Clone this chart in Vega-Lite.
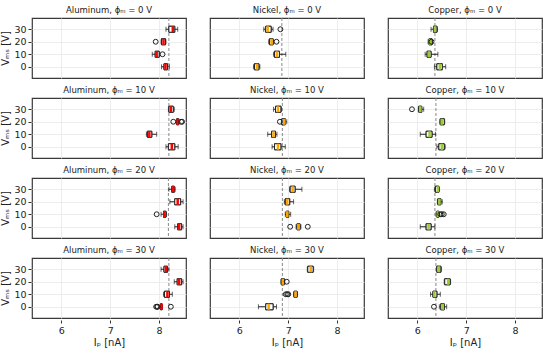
{
  "$schema": "https://vega.github.io/schema/vega-lite/v6.json",
  "padding": {"left": 0, "top": 5, "right": 0, "bottom": 0},
  "background": "white",
  "config": {
    "font": "DejaVu Sans",
    "view": {"stroke": "#3a3a3a", "strokeWidth": 1.2},
    "axis": {"labelFont": "DejaVu Sans", "titleFont": "DejaVu Sans", "labelFontSize": 9.5, "titleFontSize": 10, "labelColor": "#222222", "titleColor": "#222222", "titleFontWeight": "normal", "gridColor": "#e8e8e8", "gridWidth": 0.8, "domain": false, "tickColor": "#333333", "tickSize": 3, "labelOverlap": false},
    "header": {"labelFont": "DejaVu Sans", "labelFontSize": 8.5, "labelColor": "#222222", "labelPadding": 3}
  },
  "data": {"values": [
    {"t":"box","panel":"Aluminum, ϕₘ = 0 V","mat":"Aluminum","V":30,"lo":8.14,"q1":8.2,"med":8.28,"q3":8.32,"hi":8.38},
    {"t":"box","panel":"Aluminum, ϕₘ = 0 V","mat":"Aluminum","V":20,"lo":8.04,"q1":8.05,"med":8.09,"q3":8.13,"hi":8.14},
    {"t":"box","panel":"Aluminum, ϕₘ = 0 V","mat":"Aluminum","V":10,"lo":7.86,"q1":7.92,"med":7.95,"q3":8.0,"hi":8.01},
    {"t":"box","panel":"Aluminum, ϕₘ = 0 V","mat":"Aluminum","V":0,"lo":8.05,"q1":8.1,"med":8.13,"q3":8.17,"hi":8.21},
    {"t":"out","panel":"Aluminum, ϕₘ = 0 V","mat":"Aluminum","V":20,"x":7.93},
    {"t":"out","panel":"Aluminum, ϕₘ = 0 V","mat":"Aluminum","V":10,"x":8.07},
    {"t":"mean","panel":"Aluminum, ϕₘ = 0 V","mat":"Aluminum","m":8.2},
    {"t":"box","panel":"Nickel, ϕₘ = 0 V","mat":"Nickel","V":30,"lo":6.5,"q1":6.54,"med":6.58,"q3":6.65,"hi":6.69},
    {"t":"box","panel":"Nickel, ϕₘ = 0 V","mat":"Nickel","V":20,"lo":6.6,"q1":6.62,"med":6.66,"q3":6.69,"hi":6.7},
    {"t":"box","panel":"Nickel, ϕₘ = 0 V","mat":"Nickel","V":10,"lo":6.7,"q1":6.72,"med":6.77,"q3":6.82,"hi":6.95},
    {"t":"box","panel":"Nickel, ϕₘ = 0 V","mat":"Nickel","V":0,"lo":6.29,"q1":6.31,"med":6.36,"q3":6.4,"hi":6.42},
    {"t":"out","panel":"Nickel, ϕₘ = 0 V","mat":"Nickel","V":30,"x":6.84},
    {"t":"out","panel":"Nickel, ϕₘ = 0 V","mat":"Nickel","V":20,"x":6.76},
    {"t":"mean","panel":"Nickel, ϕₘ = 0 V","mat":"Nickel","m":6.87},
    {"t":"box","panel":"Copper, ϕₘ = 0 V","mat":"Copper","V":30,"lo":6.28,"q1":6.33,"med":6.36,"q3":6.4,"hi":6.41},
    {"t":"box","panel":"Copper, ϕₘ = 0 V","mat":"Copper","V":20,"lo":6.22,"q1":6.24,"med":6.26,"q3":6.3,"hi":6.31},
    {"t":"box","panel":"Copper, ϕₘ = 0 V","mat":"Copper","V":10,"lo":6.16,"q1":6.2,"med":6.24,"q3":6.28,"hi":6.42},
    {"t":"box","panel":"Copper, ϕₘ = 0 V","mat":"Copper","V":0,"lo":6.35,"q1":6.4,"med":6.46,"q3":6.51,"hi":6.58},
    {"t":"out","panel":"Copper, ϕₘ = 0 V","mat":"Copper","V":20,"x":6.29},
    {"t":"mean","panel":"Copper, ϕₘ = 0 V","mat":"Copper","m":6.36},
    {"t":"box","panel":"Aluminum, ϕₘ = 10 V","mat":"Aluminum","V":30,"lo":8.19,"q1":8.2,"med":8.24,"q3":8.29,"hi":8.31},
    {"t":"box","panel":"Aluminum, ϕₘ = 10 V","mat":"Aluminum","V":20,"lo":8.35,"q1":8.36,"med":8.38,"q3":8.4,"hi":8.41},
    {"t":"box","panel":"Aluminum, ϕₘ = 10 V","mat":"Aluminum","V":10,"lo":7.74,"q1":7.76,"med":7.8,"q3":7.85,"hi":7.95},
    {"t":"box","panel":"Aluminum, ϕₘ = 10 V","mat":"Aluminum","V":0,"lo":8.14,"q1":8.19,"med":8.26,"q3":8.32,"hi":8.39},
    {"t":"out","panel":"Aluminum, ϕₘ = 10 V","mat":"Aluminum","V":20,"x":8.29},
    {"t":"out","panel":"Aluminum, ϕₘ = 10 V","mat":"Aluminum","V":20,"x":8.45},
    {"t":"out","panel":"Aluminum, ϕₘ = 10 V","mat":"Aluminum","V":20,"x":8.47},
    {"t":"mean","panel":"Aluminum, ϕₘ = 10 V","mat":"Aluminum","m":8.2},
    {"t":"box","panel":"Nickel, ϕₘ = 10 V","mat":"Nickel","V":30,"lo":6.7,"q1":6.74,"med":6.79,"q3":6.85,"hi":6.86},
    {"t":"box","panel":"Nickel, ϕₘ = 10 V","mat":"Nickel","V":20,"lo":6.86,"q1":6.87,"med":6.92,"q3":6.94,"hi":6.97},
    {"t":"box","panel":"Nickel, ϕₘ = 10 V","mat":"Nickel","V":10,"lo":6.58,"q1":6.66,"med":6.7,"q3":6.74,"hi":6.77},
    {"t":"box","panel":"Nickel, ϕₘ = 10 V","mat":"Nickel","V":0,"lo":6.67,"q1":6.72,"med":6.79,"q3":6.85,"hi":6.94},
    {"t":"out","panel":"Nickel, ϕₘ = 10 V","mat":"Nickel","V":20,"x":6.83},
    {"t":"mean","panel":"Nickel, ϕₘ = 10 V","mat":"Nickel","m":6.88},
    {"t":"box","panel":"Copper, ϕₘ = 10 V","mat":"Copper","V":30,"lo":6.02,"q1":6.03,"med":6.06,"q3":6.09,"hi":6.13},
    {"t":"box","panel":"Copper, ϕₘ = 10 V","mat":"Copper","V":20,"lo":6.46,"q1":6.47,"med":6.5,"q3":6.55,"hi":6.56},
    {"t":"box","panel":"Copper, ϕₘ = 10 V","mat":"Copper","V":10,"lo":6.06,"q1":6.18,"med":6.25,"q3":6.3,"hi":6.37},
    {"t":"box","panel":"Copper, ϕₘ = 10 V","mat":"Copper","V":0,"lo":6.4,"q1":6.44,"med":6.5,"q3":6.55,"hi":6.57},
    {"t":"out","panel":"Copper, ϕₘ = 10 V","mat":"Copper","V":30,"x":5.89},
    {"t":"mean","panel":"Copper, ϕₘ = 10 V","mat":"Copper","m":6.38},
    {"t":"box","panel":"Aluminum, ϕₘ = 20 V","mat":"Aluminum","V":30,"lo":8.2,"q1":8.26,"med":8.29,"q3":8.31,"hi":8.33},
    {"t":"box","panel":"Aluminum, ϕₘ = 20 V","mat":"Aluminum","V":20,"lo":8.22,"q1":8.32,"med":8.38,"q3":8.44,"hi":8.49},
    {"t":"box","panel":"Aluminum, ϕₘ = 20 V","mat":"Aluminum","V":10,"lo":8.04,"q1":8.09,"med":8.11,"q3":8.14,"hi":8.15},
    {"t":"box","panel":"Aluminum, ϕₘ = 20 V","mat":"Aluminum","V":0,"lo":8.32,"q1":8.38,"med":8.41,"q3":8.46,"hi":8.49},
    {"t":"out","panel":"Aluminum, ϕₘ = 20 V","mat":"Aluminum","V":10,"x":7.95},
    {"t":"mean","panel":"Aluminum, ϕₘ = 20 V","mat":"Aluminum","m":8.19},
    {"t":"box","panel":"Nickel, ϕₘ = 20 V","mat":"Nickel","V":30,"lo":7.03,"q1":7.04,"med":7.09,"q3":7.14,"hi":7.28},
    {"t":"box","panel":"Nickel, ϕₘ = 20 V","mat":"Nickel","V":20,"lo":6.92,"q1":6.94,"med":6.98,"q3":7.03,"hi":7.11},
    {"t":"box","panel":"Nickel, ϕₘ = 20 V","mat":"Nickel","V":10,"lo":6.94,"q1":6.96,"med":6.98,"q3":7.01,"hi":7.05},
    {"t":"box","panel":"Nickel, ϕₘ = 20 V","mat":"Nickel","V":0,"lo":7.16,"q1":7.18,"med":7.21,"q3":7.24,"hi":7.26},
    {"t":"out","panel":"Nickel, ϕₘ = 20 V","mat":"Nickel","V":0,"x":7.04},
    {"t":"out","panel":"Nickel, ϕₘ = 20 V","mat":"Nickel","V":0,"x":7.4},
    {"t":"mean","panel":"Nickel, ϕₘ = 20 V","mat":"Nickel","m":6.88},
    {"t":"box","panel":"Copper, ϕₘ = 20 V","mat":"Copper","V":30,"lo":6.35,"q1":6.37,"med":6.42,"q3":6.44,"hi":6.45},
    {"t":"box","panel":"Copper, ϕₘ = 20 V","mat":"Copper","V":20,"lo":6.41,"q1":6.42,"med":6.45,"q3":6.48,"hi":6.51},
    {"t":"box","panel":"Copper, ϕₘ = 20 V","mat":"Copper","V":10,"lo":6.38,"q1":6.4,"med":6.42,"q3":6.44,"hi":6.45},
    {"t":"box","panel":"Copper, ϕₘ = 20 V","mat":"Copper","V":0,"lo":6.06,"q1":6.18,"med":6.23,"q3":6.28,"hi":6.36},
    {"t":"out","panel":"Copper, ϕₘ = 20 V","mat":"Copper","V":10,"x":6.47},
    {"t":"out","panel":"Copper, ϕₘ = 20 V","mat":"Copper","V":10,"x":6.5},
    {"t":"out","panel":"Copper, ϕₘ = 20 V","mat":"Copper","V":10,"x":6.54},
    {"t":"mean","panel":"Copper, ϕₘ = 20 V","mat":"Copper","m":6.36},
    {"t":"box","panel":"Aluminum, ϕₘ = 30 V","mat":"Aluminum","V":30,"lo":8.04,"q1":8.1,"med":8.14,"q3":8.17,"hi":8.2},
    {"t":"box","panel":"Aluminum, ϕₘ = 30 V","mat":"Aluminum","V":20,"lo":8.31,"q1":8.37,"med":8.41,"q3":8.46,"hi":8.49},
    {"t":"box","panel":"Aluminum, ϕₘ = 30 V","mat":"Aluminum","V":10,"lo":8.09,"q1":8.11,"med":8.17,"q3":8.21,"hi":8.27},
    {"t":"box","panel":"Aluminum, ϕₘ = 30 V","mat":"Aluminum","V":0,"lo":8.02,"q1":8.03,"med":8.05,"q3":8.06,"hi":8.07},
    {"t":"out","panel":"Aluminum, ϕₘ = 30 V","mat":"Aluminum","V":0,"x":7.94},
    {"t":"out","panel":"Aluminum, ϕₘ = 30 V","mat":"Aluminum","V":0,"x":7.96},
    {"t":"out","panel":"Aluminum, ϕₘ = 30 V","mat":"Aluminum","V":0,"x":7.97},
    {"t":"out","panel":"Aluminum, ϕₘ = 30 V","mat":"Aluminum","V":0,"x":8.24},
    {"t":"mean","panel":"Aluminum, ϕₘ = 30 V","mat":"Aluminum","m":8.2},
    {"t":"box","panel":"Nickel, ϕₘ = 30 V","mat":"Nickel","V":30,"lo":7.39,"q1":7.4,"med":7.46,"q3":7.51,"hi":7.52},
    {"t":"box","panel":"Nickel, ϕₘ = 30 V","mat":"Nickel","V":20,"lo":6.85,"q1":6.86,"med":6.89,"q3":6.92,"hi":6.93},
    {"t":"box","panel":"Nickel, ϕₘ = 30 V","mat":"Nickel","V":10,"lo":7.11,"q1":7.12,"med":7.15,"q3":7.18,"hi":7.19},
    {"t":"box","panel":"Nickel, ϕₘ = 30 V","mat":"Nickel","V":0,"lo":6.39,"q1":6.54,"med":6.6,"q3":6.69,"hi":6.76},
    {"t":"out","panel":"Nickel, ϕₘ = 30 V","mat":"Nickel","V":20,"x":6.97},
    {"t":"out","panel":"Nickel, ϕₘ = 30 V","mat":"Nickel","V":10,"x":6.95},
    {"t":"out","panel":"Nickel, ϕₘ = 30 V","mat":"Nickel","V":10,"x":6.98},
    {"t":"out","panel":"Nickel, ϕₘ = 30 V","mat":"Nickel","V":10,"x":7.0},
    {"t":"mean","panel":"Nickel, ϕₘ = 30 V","mat":"Nickel","m":6.88},
    {"t":"box","panel":"Copper, ϕₘ = 30 V","mat":"Copper","V":30,"lo":6.39,"q1":6.4,"med":6.44,"q3":6.48,"hi":6.49},
    {"t":"box","panel":"Copper, ϕₘ = 30 V","mat":"Copper","V":20,"lo":6.55,"q1":6.56,"med":6.63,"q3":6.67,"hi":6.68},
    {"t":"box","panel":"Copper, ϕₘ = 30 V","mat":"Copper","V":10,"lo":6.27,"q1":6.32,"med":6.35,"q3":6.4,"hi":6.47},
    {"t":"box","panel":"Copper, ϕₘ = 30 V","mat":"Copper","V":0,"lo":6.45,"q1":6.48,"med":6.52,"q3":6.55,"hi":6.6},
    {"t":"out","panel":"Copper, ϕₘ = 30 V","mat":"Copper","V":0,"x":6.34},
    {"t":"mean","panel":"Copper, ϕₘ = 30 V","mat":"Copper","m":6.38}
  ]},
  "facet": {
    "field": "panel",
    "type": "nominal",
    "sort": ["Aluminum, ϕₘ = 0 V","Nickel, ϕₘ = 0 V","Copper, ϕₘ = 0 V","Aluminum, ϕₘ = 10 V","Nickel, ϕₘ = 10 V","Copper, ϕₘ = 10 V","Aluminum, ϕₘ = 20 V","Nickel, ϕₘ = 20 V","Copper, ϕₘ = 20 V","Aluminum, ϕₘ = 30 V","Nickel, ϕₘ = 30 V","Copper, ϕₘ = 30 V"],
    "header": {"title": null}
  },
  "columns": 3,
  "spacing": {"row": 5, "column": 21},
  "spec": {
    "width": 154,
    "height": 60,
    "layer": [
      {"transform": [{"filter": "datum.t === 'box'"}], "mark": {"type": "bar", "orient": "horizontal", "size": 6, "fill": "white", "stroke": "#222222", "strokeWidth": 1},
       "encoding": {
         "x": {"field": "q1", "type": "quantitative", "scale": {"domain": [5.4, 8.55], "nice": false, "zero": false}, "axis": {"values": [6, 7, 8], "title": "Iₚ [nA]", "titlePadding": 3}},
         "x2": {"field": "q3"},
         "y": {"field": "V", "type": "quantitative", "scale": {"domain": [-5, 35], "nice": false, "zero": false}, "axis": {"values": [0, 10, 20, 30], "tickCount": 4, "title": "Vₘₛ [V]", "titlePadding": 3}}
       }},
      {"transform": [{"filter": "datum.t === 'mean'"}], "mark": {"type": "rule", "strokeDash": [3, 2], "color": "#888888", "strokeWidth": 1}, "encoding": {"x": {"field": "m", "type": "quantitative", "axis": {"values": [6, 7, 8], "title": "Iₚ [nA]", "titlePadding": 3}}}},
      {"transform": [{"filter": "datum.t === 'box'"}], "mark": {"type": "rule", "color": "#222222", "strokeWidth": 1}, "encoding": {"x": {"field": "lo", "type": "quantitative", "axis": {"values": [6, 7, 8], "title": "Iₚ [nA]", "titlePadding": 3}}, "x2": {"field": "hi"}, "y": {"field": "V", "type": "quantitative", "axis": {"values": [0, 10, 20, 30], "tickCount": 4, "title": "Vₘₛ [V]", "titlePadding": 3}}}},
      {"transform": [{"filter": "datum.t === 'box'"}], "mark": {"type": "tick", "orient": "vertical", "color": "#222222", "thickness": 1, "size": 5}, "encoding": {"x": {"field": "lo", "type": "quantitative", "axis": {"values": [6, 7, 8], "title": "Iₚ [nA]", "titlePadding": 3}}, "y": {"field": "V", "type": "quantitative", "axis": {"values": [0, 10, 20, 30], "tickCount": 4, "title": "Vₘₛ [V]", "titlePadding": 3}}}},
      {"transform": [{"filter": "datum.t === 'box'"}], "mark": {"type": "tick", "orient": "vertical", "color": "#222222", "thickness": 1, "size": 5}, "encoding": {"x": {"field": "hi", "type": "quantitative", "axis": {"values": [6, 7, 8], "title": "Iₚ [nA]", "titlePadding": 3}}, "y": {"field": "V", "type": "quantitative", "axis": {"values": [0, 10, 20, 30], "tickCount": 4, "title": "Vₘₛ [V]", "titlePadding": 3}}}},
      {"transform": [{"filter": "datum.t === 'box'"}], "mark": {"type": "bar", "orient": "horizontal", "size": 6, "fill": "white", "stroke": "#222222", "strokeWidth": 1}, "encoding": {"x": {"field": "q1", "type": "quantitative", "axis": {"values": [6, 7, 8], "title": "Iₚ [nA]", "titlePadding": 3}}, "x2": {"field": "q3"}, "y": {"field": "V", "type": "quantitative", "axis": {"values": [0, 10, 20, 30], "tickCount": 4, "title": "Vₘₛ [V]", "titlePadding": 3}}}},
      {"transform": [{"filter": "datum.t === 'box'"}], "mark": {"type": "tick", "orient": "vertical", "thickness": 2.5, "size": 6, "opacity": 1}, "encoding": {"x": {"field": "med", "type": "quantitative", "axis": {"values": [6, 7, 8], "title": "Iₚ [nA]", "titlePadding": 3}}, "y": {"field": "V", "type": "quantitative", "axis": {"values": [0, 10, 20, 30], "tickCount": 4, "title": "Vₘₛ [V]", "titlePadding": 3}}, "color": {"field": "mat", "type": "nominal", "scale": {"domain": ["Aluminum", "Nickel", "Copper"], "range": ["#ff0000", "#ffa500", "#9acd32"]}, "legend": null}}},
      {"transform": [{"filter": "datum.t === 'out'"}], "mark": {"type": "point", "shape": "circle", "filled": false, "stroke": "#222222", "strokeWidth": 1, "size": 24, "opacity": 1}, "encoding": {"x": {"field": "x", "type": "quantitative", "axis": {"values": [6, 7, 8], "title": "Iₚ [nA]", "titlePadding": 3}}, "y": {"field": "V", "type": "quantitative", "axis": {"values": [0, 10, 20, 30], "tickCount": 4, "title": "Vₘₛ [V]", "titlePadding": 3}}}}
    ]
  }
}
